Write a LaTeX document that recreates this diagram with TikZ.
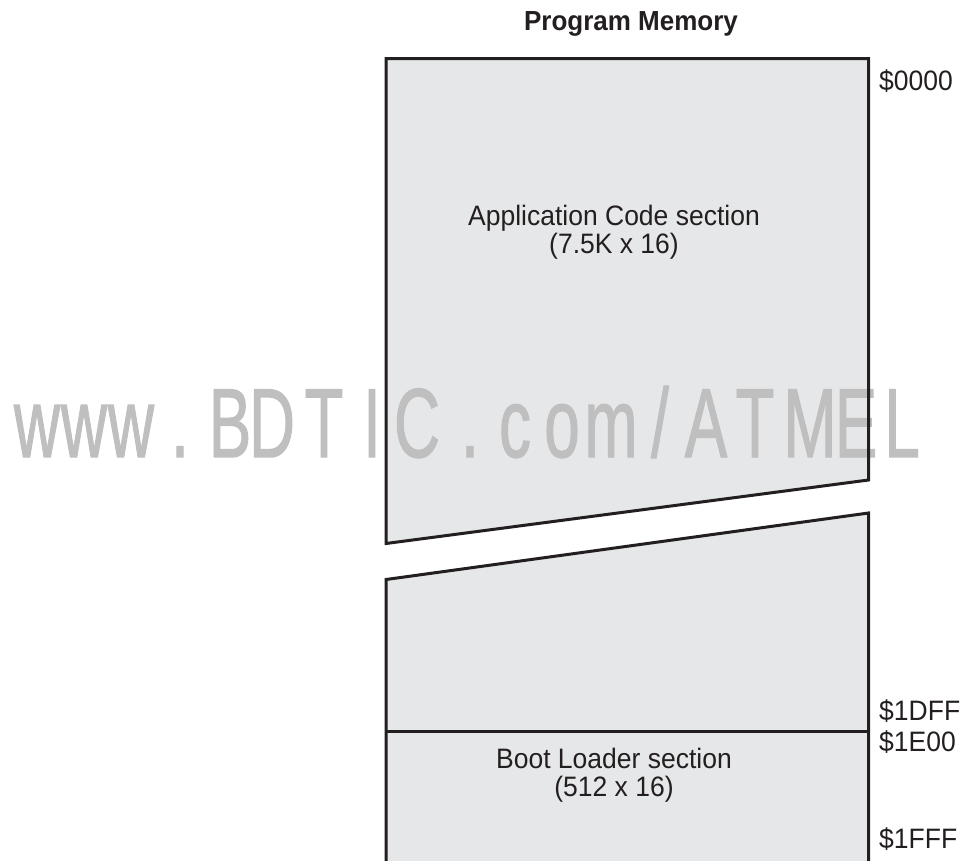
\documentclass[tikz,border=0pt]{standalone}
\usepackage{fontspec}
\setmainfont{Liberation Sans}
\newfontfamily\wmfont[FakeBold=1.5]{Liberation Sans}
\definecolor{memfill}{HTML}{E6E7E8}
\definecolor{memline}{HTML}{231F20}
\definecolor{wmgray}{HTML}{BFBFBF}
\newcommand{\tall}[1]{\scalebox{1}[1.06]{#1}}
\tikzset{
  x=1pt, y=-1pt,
  memarea/.style={fill=memfill, draw=none},
  memborder/.style={draw=memline, line width=3pt, line join=miter},
  memtext/.style={inner sep=0pt, anchor=base, text=memline, font=\fontsize{26.5}{26.5}\selectfont},
  addrtext/.style={memtext, anchor=base west},
  titletext/.style={memtext, font=\fontsize{26}{26}\selectfont\bfseries},
  wmchar/.style={inner sep=0pt, anchor=base, text=wmgray, font=\wmfont\fontsize{98}{98}\selectfont},
}
\begin{document}
\begin{tikzpicture}
\useasboundingbox (0,0) rectangle (963,860);
% fills
\fill[memarea] (386,58.5) -- (868.5,58.5) -- (868.5,480) -- (386,543.5) -- cycle;
\fill[memarea] (386,579.5) -- (868.5,513) -- (868.5,862) -- (386,862) -- cycle;
% watermark
\foreach \c/\xx [count=\i] in {w/37, w/84, w/131, ./180, B/230, D/272, T/324, I/372, C/417, ./470, c/515, o/562, m/611, {/}/660, A/706, T/755, M/810, E/856, L/902}
  \node[wmchar, name=wm\i] at (\xx,457) {\scalebox{0.65}[1]{\c}};
% borders
\draw[memborder] (386,543.5) -- (386,58.5) -- (868.5,58.5) -- (868.5,480) -- cycle;
\draw[memborder] (386,862) -- (386,579.5) -- (868.5,513) -- (868.5,862);
\coordinate (divL) at (386,731);
\coordinate (divR) at (868.5,731);
\draw[memborder] (divL) -- (divR);
% texts
\node[titletext] (title) at (631,30) {\tall{Program Memory}};
\node[memtext] (app1) at (614,225) {\tall{Application Code section}};
\node[memtext] (app2) at (614,253) {\tall{(7.5K x 16)}};
\node[memtext] (boot1) at (614,768) {\tall{Boot Loader section}};
\node[memtext] (boot2) at (614,796) {\tall{(512 x 16)}};
\node[addrtext] (a0) at (879,90) {\tall{\$0000}};
\node[addrtext] (a1) at (879,720) {\tall{\$1DFF}};
\node[addrtext] (a2) at (879,751) {\tall{\$1E00}};
\node[addrtext] (a3) at (879,848) {\tall{\$1FFF}};
\end{tikzpicture}
\end{document}
